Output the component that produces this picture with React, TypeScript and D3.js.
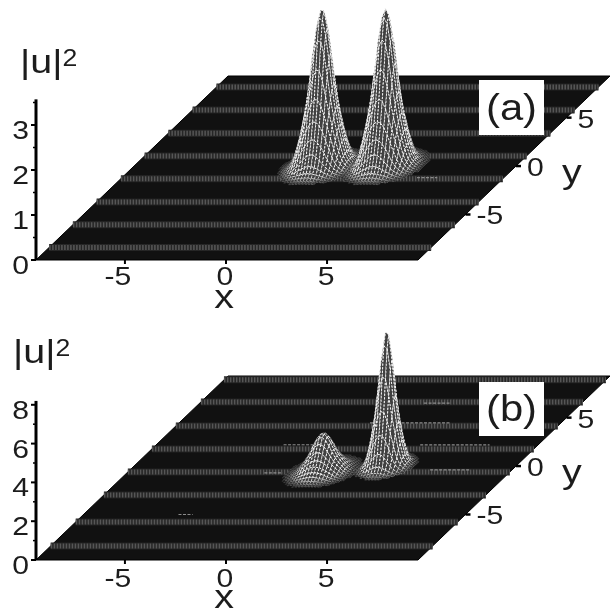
import React from "react";
import * as d3 from "d3";

const xTicks = [-5, 0, 5];
const yTicks = [-5, 0, 5];
const bandsA = [8.16, 5.8, 3.4, 1.05, -1.3, -3.7, -6.05, -8.4];
const bandsB = [8.9, 6.62, 4.14, 1.77, -0.61, -2.98, -5.77, -8.25];
// normalised lump profile: distance from peak centre -> relative height
const profileR = [0, 0.1, 0.2, 0.3, 0.4, 0.5, 0.6, 0.7, 0.8, 1.0, 1.2, 1.35, 1.5, 1.7, 2.0];
const profileH = [1, 0.985, 0.93, 0.84, 0.74, 0.62, 0.5, 0.41, 0.33, 0.2, 0.1, 0.055, 0.03, 0.012, 0];

const peaksAX = [-0.1, 3.05];
const peaksAY = [0, 0];
const peaksAZ = [3.5, 3.5];
const peaksAW = [1, 1];
const zTicksA = [0, 1, 2, 3];
const zMinorA = [0.5, 1.5, 2.5, 3.5];

const peaksBX = [0.25, 3.1];
const peaksBY = [-0.6, 0];
const peaksBZ = [2.0, 7.0];
const peaksBW = [1.05, 0.72];
const zTicksB = [0, 2, 4, 6, 8];
const zMinorB = [1, 3, 5, 7];

// faint ripples on the floor of panel (b): [x start, x end, y]
const ripplesB: number[][] = [
  [0.05, 4.0, 4.45],
  [3.67, 7.1, 2.18],
  [5.45, 7.4, -0.4],
  [1.7, 2.96, 6.5],
  [-3.1, -1.4, 2.2],
  [-2.6, -1.7, -0.7],
  [-4.7, -4.0, -5.0],
];
const ripplesA: number[][] = [[5.2, 6.2, -1.2]];

const font = "'Liberation Sans', Arial, sans-serif";
const profile = d3.scaleLinear(profileR, profileH).clamp(true);

function T({ x, y, size, anchor = "start", children }: { x: number; y: number; size: number; anchor?: string; children: React.ReactNode }) {
  return (
    <text transform={`translate(${x},${y}) scale(1.16,1)`} textAnchor={anchor} fontFamily={font} fontSize={size} fill="#1c1c1c">
      {children}
    </text>
  );
}

type P = {
  base: number; top: number; zPx: number; zMax: number; zT: number[]; zM: number[]; bands: number[]; ripples: number[][];
  px: number[]; py: number[]; pz: number[]; pw: number[]; tag: string;
  boxY: number; boxH: number; labY: number; uX: number; uY: number; xLabY: number; tickLabY: number; yLabelY: number; yLabOff: number;
};

function Panel(p: P) {
  const sx = d3.scaleLinear([-9.4, 9.5], [36, 418]);
  const syX = d3.scaleLinear([-9.7, 9.3], [0, 192]);
  const syY = d3.scaleLinear([-9.7, 9.3], [p.base, p.top]);
  const sz = d3.scaleLinear([0, p.zMax], [0, p.zPx * p.zMax]);
  const X = (x: number, y: number) => sx(x) + syX(y);
  const Y = (y: number, z: number) => syY(y) - sz(z);
  const f = (x: number, y: number) => {
    let v = 0;
    p.px.forEach((c, i) => {
      const r = Math.hypot(x - c, y - p.py[i]) / p.pw[i];
      v = Math.max(v, p.pz[i] * profile(r));
    });
    return v;
  };
  const step = 0.16;
  const xs = d3.range(-4, 7.5, step);
  const ys = d3.range(4, -5, -step);
  const quads: React.ReactElement[] = [];
  ys.forEach((y) => {
    xs.forEach((x) => {
      const q = [[x, y, f(x, y)], [x + step, y, f(x + step, y)], [x + step, y - step, f(x + step, y - step)], [x, y - step, f(x, y - step)]];
      const m = d3.max(q, (d) => d[2]) as number;
      if (sz(m) < 1) return;
      const hPx = sz(m);
      const sc = q.map((d) => [X(d[0], d[1]), Y(d[1], d[2])]);
      const area = Math.abs(d3.polygonArea(sc as [number, number][]));
      const t = Math.min(1, area / 10);
      const g = Math.round(40 + 215 * t);
      const fillG = Math.round(8 + 55 * t);
      const op = Math.min(1, hPx / 7);
      quads.push(
        <polygon key={`${x}-${y}`} points={sc.map((d) => `${d[0].toFixed(1)},${d[1].toFixed(1)}`).join(" ")}
          fill={`rgb(${fillG},${fillG},${fillG})`} stroke={`rgb(${g},${g},${g})`} strokeOpacity={0.15 + 0.85 * op} strokeWidth={0.9} strokeDasharray="2.2 1.4" />
      );
    });
  });
  const floor = [[-9.4, -9.7], [9.5, -9.7], [9.5, 9.3], [-9.4, 9.3]].map((q) => `${X(q[0], q[1])},${Y(q[1], 0)}`).join(" ");
  return (
    <g>
      <polygon points={floor} fill="#111" stroke="#000" strokeWidth={1} />
      <clipPath id={`clip${p.tag}`}><polygon points={floor} /></clipPath>
      <g clipPath={`url(#clip${p.tag})`}>
        <g filter="url(#band)">
          {p.bands.map((y) => (
            <g key={y}>
              <line x1={X(-9.4, y)} x2={X(9.5, y)} y1={Y(y, 0)} y2={Y(y, 0)} stroke="#262626" strokeWidth={7} />
              <line x1={X(-9.4, y)} x2={X(9.5, y)} y1={Y(y, 0)} y2={Y(y, 0)} stroke="#565656" strokeWidth={5} strokeDasharray="1.5 1.5" />
            </g>
          ))}
          {p.ripples.map((r, i) => (
            <line key={i} x1={X(r[0], r[1 + 1])} x2={X(r[1], r[2])} y1={Y(r[2], 0)} y2={Y(r[2], 0)} stroke="#8a8a8a" strokeWidth={1.2} strokeDasharray="3 1.5" />
          ))}
        </g>
      </g>
      <g filter="url(#soft)">{quads}</g>
      <line x1={36} x2={36} y1={p.base} y2={p.base - sz(p.zMax)} stroke="#000" strokeWidth={3} />
      {p.zM.map((t) => (
        <line key={t} x1={33} x2={36} y1={p.base - sz(t)} y2={p.base - sz(t)} stroke="#000" strokeWidth={1.5} />
      ))}
      {xTicks.map((t) => (
        <line key={t} x1={X(t, -9.7)} x2={X(t, -9.7)} y1={p.base} y2={p.base + 4} stroke="#000" strokeWidth={2} />
      ))}
      {yTicks.map((t) => (
        <line key={t} x1={X(9.5, t)} x2={X(9.5, t) + 5} y1={Y(t, 0)} y2={Y(t, 0)} stroke="#000" strokeWidth={2.5} />
      ))}
      <g filter="url(#softText)">
        {p.zT.map((t) => (
          <g key={t}>
            <line x1={31} x2={36} y1={p.base - sz(t)} y2={p.base - sz(t)} stroke="#000" strokeWidth={2} />
            <T x={29} y={p.base - sz(t) + 14} size={26} anchor="end">{t}</T>
          </g>
        ))}
        {xTicks.map((t) => (
          <T key={t} x={X(t, -9.7) - (t < 0 ? 7 : 1)} y={p.tickLabY} size={26} anchor="middle">{t}</T>
        ))}
        <T x={224} y={p.xLabY} size={34} anchor="middle">x</T>
        {yTicks.map((t) => (
          <T key={t} x={X(9.5, t) + 11} y={Y(t, 0) + p.yLabOff} size={26}>{t}</T>
        ))}
        <T x={562} y={p.yLabelY} size={34}>y</T>
        <T x={p.uX} y={p.uY} size={34}>|u|<tspan dy={-7} fontSize={23}>2</tspan></T>
        <rect x={479} y={p.boxY} width={65} height={p.boxH} fill="#fff" />
        <T x={511.5} y={p.labY} size={36} anchor="middle">{p.tag}</T>
      </g>
    </g>
  );
}

export default function App() {
  return (
    <svg width={613} height={609} viewBox="0 0 613 609" style={{ position: "absolute", left: 0, top: 0, background: "#fff" }}>
      <defs>
        <filter id="soft" x="-5%" y="-5%" width="110%" height="110%"><feGaussianBlur stdDeviation={0.45} /></filter>
        <filter id="band" x="-5%" y="-5%" width="110%" height="110%"><feGaussianBlur stdDeviation={0.4} /></filter>
        <filter id="softText" x="-5%" y="-5%" width="110%" height="110%"><feGaussianBlur stdDeviation={0.45} /></filter>
      </defs>
      <Panel base={260} top={76} zPx={45} zMax={3.57} zT={zTicksA} zM={zMinorA} bands={bandsA} ripples={ripplesA}
        px={peaksAX} py={peaksAY} pz={peaksAZ} pw={peaksAW} tag="(a)"
        boxY={80} boxH={55} labY={120} uX={20} uY={73} xLabY={308} tickLabY={285} yLabelY={183} yLabOff={10} />
      <Panel base={560} top={376} zPx={19.4} zMax={8.2} zT={zTicksB} zM={zMinorB} bands={bandsB} ripples={ripplesB}
        px={peaksBX} py={peaksBY} pz={peaksBZ} pw={peaksBW} tag="(b)"
        boxY={382} boxH={54} labY={421} uX={13} uY={363} xLabY={608} tickLabY={587} yLabelY={483} yLabOff={10} />
    </svg>
  );
}
